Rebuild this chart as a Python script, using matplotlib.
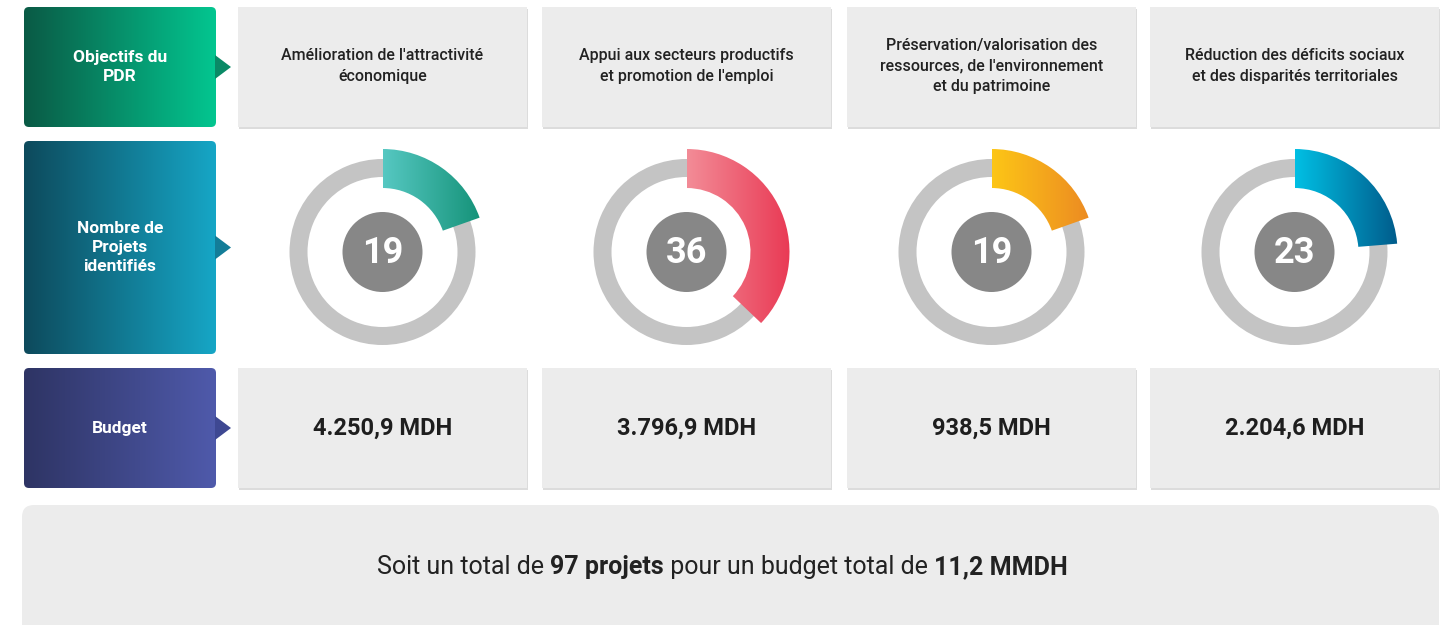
import numpy as np
import matplotlib
matplotlib.use("Agg")
import matplotlib.pyplot as plt
from matplotlib.patches import FancyBboxPatch, Wedge, Circle, Polygon, Rectangle
from matplotlib.colors import LinearSegmentedColormap

# %%
objectifs = ["Amélioration de l'attractivité\néconomique",
             "Appui aux secteurs productifs\net promotion de l'emploi",
             "Préservation/valorisation des\nressources, de l'environnement\net du patrimoine",
             "Réduction des déficits sociaux\net des disparités territoriales"]
nb_projets = [19, 36, 19, 23]
budget_mdh = [4250.9, 3796.9, 938.5, 2204.6]
row_labels = ["Objectifs du\nPDR", "Nombre de\nProjets\nidentifiés", "Budget"]
row_colors = [("#0a5a45", "#03c690"), ("#0d4a5c", "#16a6c6"), ("#2e3464", "#4f5aab")]
arrow_colors = ["#0a8a66", "#137d98", "#3e4892"]
arc_colors = [("#56c8c2", "#118f74"), ("#f38c97", "#e93954"),
              ("#fdc616", "#eb8723"), ("#00c0e4", "#015a8a")]

total_projets = sum(nb_projets)
total_budget = sum(budget_mdh) / 1000


def fr_num(v, dec=1):
    s = f"{v:,.{dec}f}"
    return s.replace(",", " ").replace(".", ",").replace(" ", ".")


plt.rcParams['font.family'] = ['Roboto', 'DejaVu Sans']

W, H = 1445, 625
fig = plt.figure(figsize=(W / 100, H / 100), dpi=100)
ax = fig.add_axes([0, 0, 1, 1])
ax.set_xlim(0, W)
ax.set_ylim(H, 0)
ax.axis('off')


def grad_fill(patch, c1, c2, x0, x1, y0, y1, z=2):
    ax.add_patch(patch)
    cmap = LinearSegmentedColormap.from_list("g", [c1, c2])
    g = np.linspace(0, 1, 256).reshape(1, -1)
    im = ax.imshow(g, extent=[x0, x1, y1, y0], cmap=cmap, aspect='auto', zorder=z)
    im.set_clip_path(patch)


# left row header boxes
rows_y = [(7, 127), (141, 354), (368, 488)]
for (y0, y1), lab, (c1, c2), ac in zip(rows_y, row_labels, row_colors, arrow_colors):
    box = FancyBboxPatch((24, y0), 192, y1 - y0, boxstyle="round,pad=0,rounding_size=5",
                         fc="none", ec="none", zorder=2)
    grad_fill(box, c1, c2, 24, 216, y0, y1)
    ym = (y0 + y1) / 2
    ax.add_patch(Polygon([(215, ym - 12), (231, ym), (215, ym + 12)], closed=True,
                         fc=ac, ec="none", zorder=3))
    ax.text(120, ym, lab, color="white", fontsize=12.5, fontweight="bold",
            ha="center", va="center", linespacing=1.35, zorder=4)

col_left = [238, 542, 847, 1150]
col_w = 289

for i, x0 in enumerate(col_left):
    xc = x0 + col_w / 2
    # grey cards with a soft shadow
    for (y0, y1) in [rows_y[0], rows_y[2]]:
        ax.add_patch(Rectangle((x0 + 1, y0 + 2), col_w, y1 - y0, fc="#dcdcdc", ec="none", zorder=1))
        ax.add_patch(Rectangle((x0, y0), col_w, y1 - y0, fc="#ececec", ec="none", zorder=1.5))
    ax.text(xc, 66, objectifs[i], fontsize=11.5, fontweight="medium", color="#222222",
            ha="center", va="center", linespacing=1.45, zorder=4)
    ax.text(xc, 428, fr_num(budget_mdh[i]) + " MDH", fontsize=17, fontweight="bold",
            color="#1e1e1e", ha="center", va="center", zorder=4)

    # donut
    cy = 252
    ax.add_patch(Wedge((xc, cy), 93, 0, 360, width=18, fc="#c4c4c4", ec="none", zorder=2))
    sweep = nb_projets[i] / total_projets * 360
    arc = Wedge((xc, cy), 103, -90, -90 + sweep, width=39, fc="none", ec="none", zorder=3)
    grad_fill(arc, arc_colors[i][0], arc_colors[i][1], xc, xc + 104, cy - 104, cy + 104, z=3)
    ax.add_patch(Circle((xc, cy), 40, fc="#878787", ec="none", zorder=4))
    ax.text(xc, cy + 1, str(nb_projets[i]), fontsize=26, fontweight="bold", color="white",
            ha="center", va="center", zorder=5)

# bottom total box
ax.add_patch(FancyBboxPatch((22, 505), 1417, 135, boxstyle="round,pad=0,rounding_size=12",
                            fc="#ececec", ec="none", zorder=1))

parts = [("Soit un total de ", "normal"), (f"{total_projets} projets", "bold"),
         (" pour un budget total de ", "normal"),
         (fr_num(total_budget) + " MMDH", "bold")]
fig.canvas.draw()
r = fig.canvas.get_renderer()
texts = []
for s, w in parts:
    t = ax.text(0, 567, s, fontsize=18, fontweight=w, color="#222222",
                ha="left", va="center", zorder=4)
    texts.append(t)
widths = [t.get_window_extent(renderer=r).width for t in texts]
x = (W - sum(widths)) / 2
for t, w in zip(texts, widths):
    t.set_x(x)
    x += w

fig.savefig("out.png", dpi=100)
